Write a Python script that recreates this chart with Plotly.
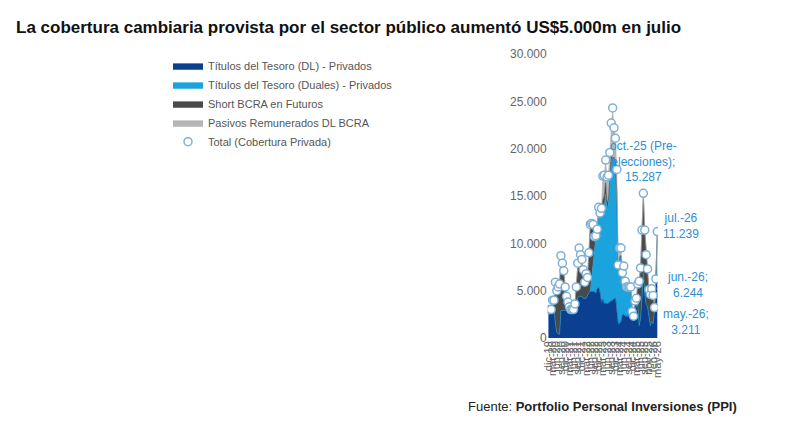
import plotly.graph_objects as go

# monthly points, dic-19 .. jul-26 (index 0..78)
tick_labels = ['dic.-19', 'mar.-20', 'jun.-20', 'sep.-20', 'dic.-20', 'mar.-21', 'jun.-21', 'sep.-21', 'dic.-21',
               'mar.-22', 'jun.-22', 'sep.-22', 'dic.-22', 'mar.-23', 'jun.-23', 'sep.-23', 'dic.-23', 'mar.-24',
               'jun.-24', 'sep.-24', 'dic.-24', 'mar.-25', 'jun.-25', 'sep.-25', 'nov.-25', 'feb.-26', 'may.-26']
tick_labels = [t.replace('.-', '-') for t in tick_labels]

dl = [3000, 3000, 3000, 3000, 3000, 1500, 600, 450, 400, 2900,
      2900, 2900, 2900, 2900, 2900, 2900, 2900, 2900, 2900, 3200,
      3800, 4300, 4400, 4400, 4400, 4200, 4200, 4200, 4500, 4800,
      4900, 4900, 4900, 4900, 4700, 5200, 5300, 4700, 3700, 4100,
      3600, 3700, 3600, 3700, 3800, 3900, 4000, 4100, 4200, 2800,
      1400, 1600, 1700, 2400, 2500, 2300, 2300, 2300, 2300, 2300,
      2300, 2300, 3100, 3300, 3500, 1300, 2000, 4200, 6900, 4600,
      3500, 3300, 2500, 1300, 1800, 1500, 2900, 5600, 6400]
duales = [0] * 31 + [1500, 3500, 5000, 6000, 6200, 8200, 8300, 9500, 9000,
                     10200, 11500, 9800, 10600, 12800, 15000, 15000, 15000, 14500, 12500,
                     5800, 7000, 7000, 4200, 4800, 3500, 3100, 3100, 3100, 3100,
                     500, 0, 0, 0, 0, 0, 0, 0, 0, 0,
                     0, 0, 0, 0, 0, 0, 0, 600, 4800]
short = [0, 0, 0, 1000, 1000, 4400, 4400, 4950, 5300, 5800,
         5000, 4200, 2500, 1500, 900, 400, 100, 100, 100, 400,
         1600, 3600, 5100, 4400, 3900, 3000, 1700, 2600, 1900, 4200,
         7100, 5700, 3600, 800, 100, 100, 200, 100, 400, 1500,
         1200, 1200, 1000, 300, 600, 500, 0, 0, 0, 0,
         0, 0, 0, 0, 0, 0, 0, 0, 0, 0,
         0, 0, 800, 900, 2200, 4700, 5400, 7200, 8387, 6800,
         5300, 4000, 2600, 3300, 3400, 3000, 311, 44, 39]
pasivos = [0] * 36 + [100, 100, 100, 2500, 2200, 2400, 2600, 2600, 2400, 3300,
                      5300, 3100, 2400, 2500, 500, 900, 800, 300, 300, 200] + [0] * 23

x = list(range(len(dl)))
total = [a + b + c + d for a, b, c, d in zip(dl, duales, short, pasivos)]

fig = go.Figure()
series = [
    ('Títulos del Tesoro (DL) - Privados', dl, '#0b3f8f'),
    ('Títulos del Tesoro (Duales) - Privados', duales, '#1aa3dc'),
    ('Short BCRA en Futuros', short, '#4a4a4a'),
    ('Pasivos Remunerados DL BCRA', pasivos, '#b5b5b5'),
]
for name, vals, col in series:
    fig.add_trace(go.Scatter(x=x, y=vals, name=name, stackgroup='one', mode='lines',
                             line=dict(width=0.6, color=col), fillcolor=col))
fig.add_trace(go.Scatter(x=x, y=total, name='Total (Cobertura Privada)', mode='markers',
                         marker=dict(symbol='circle', size=8, color='white',
                                     line=dict(color='#7fb0d6', width=1.5))))

blue = '#2e8fcf'
fig.add_annotation(x=68, y=total[68], text='oct.-25 (Pre-<br>elecciones);<br>15.287', showarrow=False,
                   yshift=32, font=dict(color=blue, size=12, family='Arial Black, Arial'))
fig.add_annotation(x=78, y=total[78], text='jul.-26<br>11.239', showarrow=False, xanchor='left',
                   xshift=4, yshift=6, font=dict(color=blue, size=12, family='Arial Black, Arial'))
fig.add_annotation(x=78, y=6244, text='jun.-26;<br>6.244', showarrow=False, xanchor='left',
                   xshift=8, yshift=-6, font=dict(color=blue, size=12, family='Arial Black, Arial'))
fig.add_annotation(x=78, y=3211, text='may.-26;<br>3.211', showarrow=False, xanchor='left',
                   xshift=4, yshift=-14, font=dict(color=blue, size=12, family='Arial Black, Arial'))
fig.add_annotation(x=0.5, y=-0.275, xref='paper', yref='paper', showarrow=False,
                   text='Fuente: <b>Portfolio Personal Inversiones (PPI)</b>',
                   font=dict(size=13, color='#222222'))

fig.update_layout(
    width=800, height=426,
    title=dict(text='<b>La cobertura cambiaria provista por el sector público aumentó US$5.000m en julio</b>',
               x=0.01, y=0.97, font=dict(size=17, color='#111111', family='Arial')),
    font=dict(family='Arial', color='#666666'),
    separators=',.',
    margin=dict(l=140, r=150, t=46, b=96),
    plot_bgcolor='white', paper_bgcolor='white',
    legend=dict(orientation='h', xref='container', x=0.2, y=1.01, yanchor='top',
                entrywidth=285, font=dict(size=11, color='#555555'), bgcolor='rgba(0,0,0,0)',
                traceorder='normal'),
    xaxis=dict(tickmode='array', tickvals=list(range(0, 79, 3)), ticktext=tick_labels,
               tickangle=-90, range=[-0.5, 78.5], showgrid=False, tickfont=dict(size=11),
               showline=False, zeroline=False),
    yaxis=dict(range=[0, 30000], dtick=5000, tickformat=',d', showgrid=False, zeroline=False,
               tickfont=dict(size=12)),
)
fig.write_html('out.html')
